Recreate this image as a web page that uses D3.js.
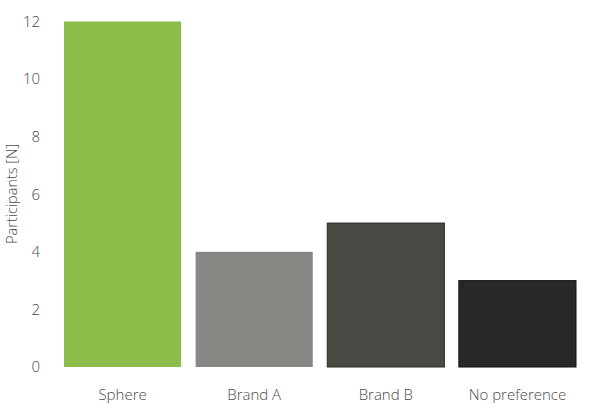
<!DOCTYPE html>
<html><head><meta charset="utf-8">
<script src="https://cdn.jsdelivr.net/npm/d3@7"></script>
<style>body{margin:0;background:#fff}text{font-family:"Open Sans",sans-serif}</style>
</head><body><svg id="c" width="600" height="409"></svg>
<script>
const categories = ["Sphere", "Brand A", "Brand B", "No preference"];
const values = [12, 4, 5, 3];
const colors = ["#8cbd4a", "#878783", "#4a4a44", "#282828"];
const strokes = ["none", "none", "#2a2a26", "#111111"];
const yTicks = [0, 2, 4, 6, 8, 10, 12];
const yTitle = "Participants [N]";

const svg = d3.select("#c");
const x = d3.scaleBand().domain(categories).range([56.75, 583.25]).paddingInner(0.11).paddingOuter(0.055);
const y = d3.scaleLinear().domain([0, 12]).range([367, 21.5]);

svg.selectAll("rect.bar").data(values).join("rect")
  .attr("class", "bar")
  .attr("x", (d, i) => x(categories[i]))
  .attr("width", x.bandwidth())
  .attr("y", d => y(d))
  .attr("height", d => y(0) - y(d))
  .attr("fill", (d, i) => colors[i])
  .attr("stroke", (d, i) => strokes[i])
  .attr("stroke-width", 1);

const font = "'Open Sans', sans-serif";
const txtColor = "#4a4a4a";
const fs = 15;
const yAxis = svg.append("g").attr("transform", "translate(40,0)")
  .call(d3.axisLeft(y).tickValues(yTicks).tickSize(0).tickPadding(0));
yAxis.select(".domain").remove();
yAxis.selectAll("text").attr("font-size", fs).attr("font-weight", 300).attr("fill", txtColor).attr("font-family", font);

const xAxis = svg.append("g").attr("transform", "translate(0,389)")
  .call(d3.axisBottom(x).tickSize(0).tickPadding(0));
xAxis.select(".domain").remove();
xAxis.selectAll("text").attr("font-size", fs).attr("font-weight", 300).attr("fill", txtColor).attr("font-family", font).attr("dy", "0.71em");

svg.append("text")
  .attr("transform", "translate(16.5,194) rotate(-90)")
  .attr("text-anchor", "middle")
  .attr("font-size", 14.5).attr("font-weight", 300).attr("fill", txtColor).attr("font-family", font)
  .text(yTitle);
</script></body></html>
